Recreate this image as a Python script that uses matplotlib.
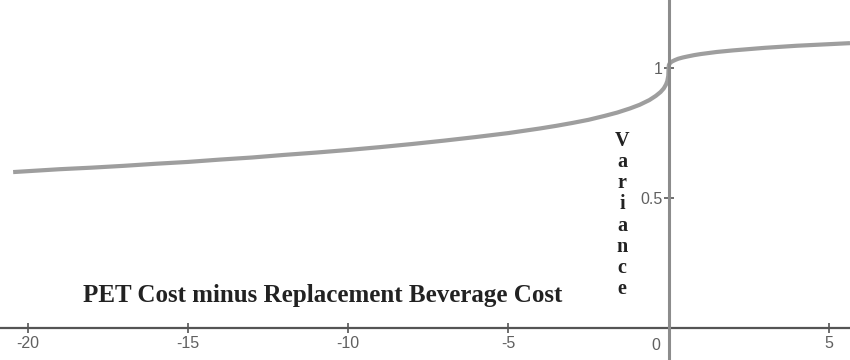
import matplotlib.pyplot as plt

# values
x_left = [-20.45, -19, -18, -17, -16, -15, -14, -13, -12, -11, -10, -9, -8, -7, -6, -5,
          -4.5, -4, -3.5, -3, -2.5, -2, -1.6, -1.2, -0.9, -0.6, -0.4, -0.25, -0.15,
          -0.08, -0.04, -0.01, 0]
y_left = [0.600, 0.611, 0.617, 0.624, 0.632, 0.639, 0.648, 0.656, 0.666, 0.675, 0.685,
          0.696, 0.708, 0.721, 0.735, 0.750, 0.759, 0.768, 0.778, 0.789, 0.801, 0.816,
          0.829, 0.845, 0.859, 0.877, 0.893, 0.908, 0.922, 0.937, 0.950, 0.970, 1.0]
x_right = [0, 0.01, 0.03, 0.06, 0.1, 0.2, 0.3, 0.45, 0.6, 0.8, 1, 1.5, 2, 2.5, 3, 3.5,
           4, 4.5, 5, 5.66]
y_right = [1.0, 1.012, 1.017, 1.021, 1.025, 1.031, 1.036, 1.041, 1.045, 1.050, 1.054,
           1.062, 1.068, 1.073, 1.078, 1.082, 1.086, 1.089, 1.092, 1.096]

x_ticks = [-20, -15, -10, -5, 0, 5]
y_ticks = [0.5, 1]
y_tick_labels = ['0.5', '1']

fig = plt.figure(figsize=(8.5, 3.6), dpi=100)
ax = fig.add_axes([0, 0, 1, 1])

curve_color = '#9e9e9e'
ax.plot(x_left, y_left, color=curve_color, lw=3, solid_capstyle='butt', zorder=3)
ax.plot(x_right, y_right, color=curve_color, lw=3, solid_capstyle='butt', zorder=3)

ax.set_xlim(-20.86, 5.66)
ax.set_ylim(-0.123, 1.262)

# axes through the origin
for s in ['top', 'right']:
    ax.spines[s].set_visible(False)
ax.spines['left'].set_position(('data', 0))
ax.spines['bottom'].set_position(('data', 0))
ax.spines['left'].set_color('#8c8c8c')
ax.spines['left'].set_linewidth(2.2)
ax.spines['left'].set_zorder(4)
ax.spines['bottom'].set_color('#555555')
ax.spines['bottom'].set_linewidth(1.6)

sans = 'Liberation Sans'
ax.set_xticks(x_ticks)
ax.set_xticklabels([str(t) if t != 0 else '' for t in x_ticks], family=sans)
ax.set_yticks(y_ticks)
ax.set_yticklabels(y_tick_labels, family=sans)
ax.tick_params(axis='both', direction='inout', length=7, width=1.2,
               colors='#555555', labelsize=11.5, labelcolor='#606060')
ax.tick_params(axis='x', pad=2)
ax.tick_params(axis='y', pad=1)

# zero label sits left of the y-axis
ax.text(-0.25, -0.04, '0', ha='right', va='top', fontsize=11.5, color='#606060', family=sans)

serif = 'Liberation Serif'
ax.text(-10.8, 0.125, 'PET Cost minus Replacement Beverage Cost', ha='center', va='center',
        fontsize=18, fontweight='bold', family=serif, color='#222222')
ax.text(-1.45, 0.435, '\n'.join('Variance'), ha='center', va='center', fontsize=14.5,
        fontweight='bold', family=serif, color='#222222', linespacing=1.08)

fig.savefig('out.png', dpi=100, facecolor='white')
